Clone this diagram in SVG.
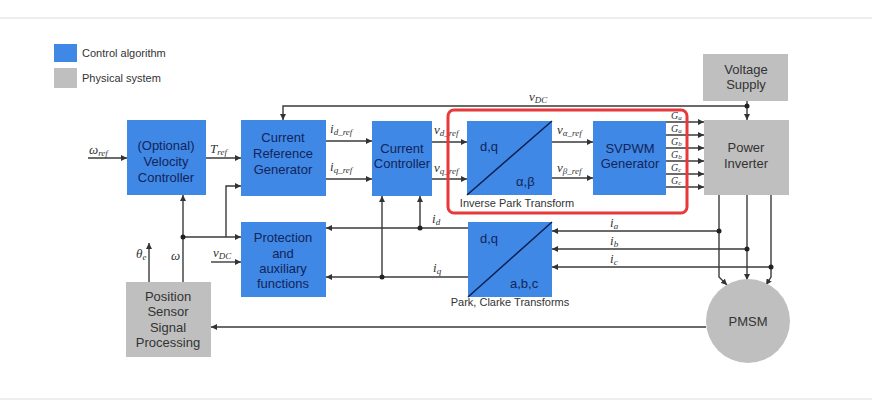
<svg xmlns="http://www.w3.org/2000/svg" width="872" height="414" viewBox="0 0 872 414">
<defs>
<marker id="ah" viewBox="0 0 8 8" refX="8" refY="4" markerWidth="6" markerHeight="6" orient="auto" markerUnits="userSpaceOnUse">
<path d="M0,0 L8,4 L0,8 z" fill="#333"/>
</marker>
<style>
.ctl{fill:#3f88e5}
.phy{fill:#bfbfbf}
.bt{font-family:"Liberation Sans",Arial,sans-serif;font-size:13px;fill:#13245a;text-anchor:middle}
.pt{font-family:"Liberation Sans",Arial,sans-serif;font-size:13px;fill:#333;text-anchor:middle}
.lg{font-family:"Liberation Sans",Arial,sans-serif;font-size:11px;fill:#333}
.cap{font-family:"Liberation Sans",Arial,sans-serif;font-size:11px;fill:#333;text-anchor:middle}
.m{font-family:"Liberation Serif","Times New Roman",serif;font-style:italic;font-size:13px;fill:#333}
.g{font-family:"Liberation Serif","Times New Roman",serif;font-style:italic;font-size:10px;fill:#333}
.s{font-size:9px}
.gs{font-size:7px}
.ln{fill:none;stroke:#3a3a3a;stroke-width:1.4}
.ar{marker-end:url(#ah)}
.dot{fill:#222}
.diag{stroke:#0d1f4f;stroke-width:1.5}
</style>
</defs>
<rect width="872" height="414" fill="#fff"/>
<line x1="0" y1="18" x2="872" y2="18" stroke="#dcdce4" stroke-width="1"/>
<line x1="0" y1="399" x2="872" y2="399" stroke="#dcdcdc" stroke-width="1"/>

<g id="legend">
<rect x="54" y="44" width="23" height="18" class="ctl"/>
<text x="82" y="57" class="lg">Control algorithm</text>
<rect x="54" y="68" width="23" height="20" class="phy"/>
<text x="82" y="82" class="lg">Physical system</text>
</g>

<g id="connectors">
<path class="ln ar" d="M88,158 H127"/>
<path class="ln ar" d="M206,158 H241"/>
<path class="ln ar" d="M747,101 V120"/>
<path class="ln ar" d="M747,106 H283 V120"/>
<path class="ln ar" d="M326,141 H372"/>
<path class="ln ar" d="M326,179 H372"/>
<path class="ln ar" d="M432,142 H467"/>
<path class="ln ar" d="M432,179 H467"/>
<path class="ln ar" d="M552,142 H593"/>
<path class="ln ar" d="M552,178 H593"/>
<path class="ln ar" d="M666,122 H704"/>
<path class="ln ar" d="M666,135 H704"/>
<path class="ln ar" d="M666,148 H704"/>
<path class="ln ar" d="M666,161 H704"/>
<path class="ln ar" d="M666,174 H704"/>
<path class="ln ar" d="M666,187 H704"/>
<path class="ln ar" d="M719,195 V277 L727,285"/>
<path class="ln ar" d="M747,195 V280"/>
<path class="ln ar" d="M771,195 V277 L766,285"/>
<path class="ln ar" d="M719,231 H552"/>
<path class="ln ar" d="M747,249 H552"/>
<path class="ln ar" d="M771,267 H552"/>
<path class="ln ar" d="M468,228 H326"/>
<path class="ln ar" d="M420,228 V196"/>
<path class="ln ar" d="M468,277 H326"/>
<path class="ln ar" d="M382,277 V196"/>
<path class="ln ar" d="M706,327 H211"/>
<path class="ln ar" d="M149,282 V243"/>
<path class="ln ar" d="M183,282 V195"/>
<path class="ln ar" d="M183,237 H241"/>
<path class="ln ar" d="M226,237 V186 H241"/>
<path class="ln ar" d="M211,262 H241"/>
<circle cx="747" cy="106" r="2.5" class="dot"/>
<circle cx="719" cy="231" r="2.5" class="dot"/>
<circle cx="747" cy="249" r="2.5" class="dot"/>
<circle cx="771" cy="267" r="2.5" class="dot"/>
<circle cx="420" cy="228" r="2.5" class="dot"/>
<circle cx="382" cy="277" r="2.5" class="dot"/>
<circle cx="183" cy="237" r="2.5" class="dot"/>
<text x="89" y="154" class="m">ω<tspan class="s" dy="2">ref</tspan></text>
<text x="210" y="153" class="m">T<tspan class="s" dy="2">ref</tspan></text>
<text x="529" y="101" class="m">v<tspan class="s" dy="2">DC</tspan></text>
<text x="330" y="133" class="m">i<tspan class="s" dy="2">d_ref</tspan></text>
<text x="330" y="171" class="m">i<tspan class="s" dy="2">q_ref</tspan></text>
<text x="434" y="134" class="m">v<tspan class="s" dy="2">d_ref</tspan></text>
<text x="434" y="172" class="m">v<tspan class="s" dy="2">q_ref</tspan></text>
<text x="557" y="134" class="m">v<tspan class="s" dy="2">α_ref</tspan></text>
<text x="557" y="172" class="m">v<tspan class="s" dy="2">β_ref</tspan></text>
<text x="671" y="119" class="g">G<tspan class="gs" dy="1">a</tspan></text>
<text x="671" y="132" class="g">G<tspan class="gs" dy="1">a</tspan></text>
<text x="671" y="145" class="g">G<tspan class="gs" dy="1">b</tspan></text>
<text x="671" y="158" class="g">G<tspan class="gs" dy="1">b</tspan></text>
<text x="671" y="171" class="g">G<tspan class="gs" dy="1">c</tspan></text>
<text x="671" y="184" class="g">G<tspan class="gs" dy="1">c</tspan></text>
<text x="432" y="223" class="m">i<tspan class="s" dy="2">d</tspan></text>
<text x="433" y="272" class="m">i<tspan class="s" dy="2">q</tspan></text>
<text x="610" y="227" class="m">i<tspan class="s" dy="2">a</tspan></text>
<text x="610" y="245" class="m">i<tspan class="s" dy="2">b</tspan></text>
<text x="610" y="263" class="m">i<tspan class="s" dy="2">c</tspan></text>
<text x="136" y="258" class="m">θ<tspan class="s" dy="2">e</tspan></text>
<text x="171" y="260" class="m">ω</text>
<text x="213" y="257" class="m">v<tspan class="s" dy="2">DC</tspan></text>
</g>

<g id="velocity-controller">
<rect x="127" y="120" width="79" height="75" class="ctl"/>
<text x="166" y="150" class="bt">(Optional)</text>
<text x="166" y="166" class="bt">Velocity</text>
<text x="166" y="182" class="bt">Controller</text>
</g>

<g id="current-reference-generator">
<rect x="241" y="120" width="85" height="76" class="ctl"/>
<text x="283" y="142" class="bt">Current</text>
<text x="283" y="158" class="bt">Reference</text>
<text x="283" y="174" class="bt">Generator</text>
</g>

<g id="current-controller">
<rect x="372" y="121" width="60" height="75" class="ctl"/>
<text x="402" y="153" class="bt">Current</text>
<text x="402" y="168" class="bt">Controller</text>
</g>

<g id="inverse-park">
<rect x="467" y="121" width="85" height="74" class="ctl"/>
<line x1="467" y1="195" x2="552" y2="121" class="diag"/>
<text x="480" y="151" class="bt" style="text-anchor:start">d,q</text>
<text x="516" y="186" class="bt" style="text-anchor:start">α,β</text>
<text x="517" y="207" class="cap">Inverse Park Transform</text>
</g>

<g id="svpwm-generator">
<rect x="593" y="121" width="73" height="74" class="ctl"/>
<text x="630" y="153" class="bt">SVPWM</text>
<text x="630" y="168" class="bt">Generator</text>
</g>

<g id="voltage-supply">
<rect x="703" y="54" width="85" height="47" class="phy"/>
<text x="746" y="74" class="pt">Voltage</text>
<text x="746" y="89" class="pt">Supply</text>
</g>

<g id="power-inverter">
<rect x="704" y="120" width="85" height="75" class="phy"/>
<text x="746" y="152" class="pt">Power</text>
<text x="746" y="168" class="pt">Inverter</text>
</g>

<g id="protection">
<rect x="241" y="222" width="85" height="75" class="ctl"/>
<text x="283" y="242" class="bt">Protection</text>
<text x="283" y="258" class="bt">and</text>
<text x="283" y="273" class="bt">auxiliary</text>
<text x="283" y="288" class="bt">functions</text>
</g>

<g id="park-clarke">
<rect x="468" y="222" width="84" height="75" class="ctl"/>
<line x1="468" y1="297" x2="552" y2="222" class="diag"/>
<text x="480" y="243" class="bt" style="text-anchor:start">d,q</text>
<text x="510" y="288" class="bt" style="text-anchor:start">a,b,c</text>
<text x="510" y="306" class="cap">Park, Clarke Transforms</text>
</g>

<g id="position-sensor">
<rect x="126" y="282" width="85" height="75" class="phy"/>
<text x="168" y="301" class="pt">Position</text>
<text x="168" y="316" class="pt">Sensor</text>
<text x="168" y="332" class="pt">Signal</text>
<text x="168" y="347" class="pt">Processing</text>
</g>

<g id="pmsm">
<circle cx="748" cy="321" r="42" class="phy"/>
<text x="748" y="326" class="pt">PMSM</text>
</g>

<g id="highlight">
<rect x="448" y="110" width="239" height="103" rx="6" fill="none" stroke="#e8393a" stroke-width="3"/>
</g>
</svg>
